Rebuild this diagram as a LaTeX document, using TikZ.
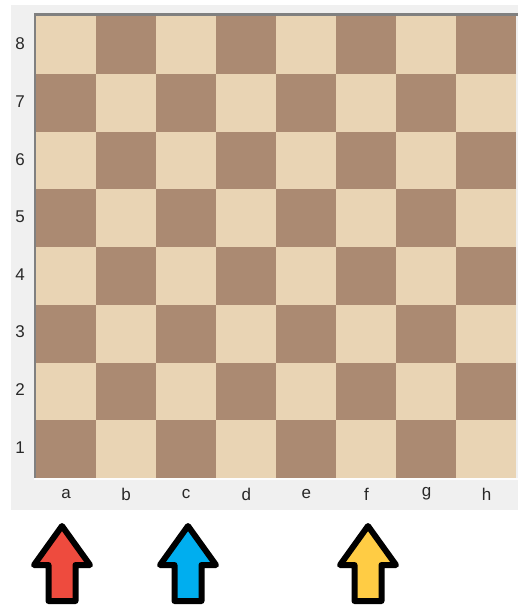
\documentclass[tikz,border=0pt]{standalone}
\usepackage{fontspec}
\setmainfont{Liberation Sans}
\definecolor{lightsq}{RGB}{233,212,180}
\definecolor{darksq}{RGB}{171,138,114}
\definecolor{panel}{RGB}{240,240,240}
\definecolor{edge}{RGB}{128,128,128}
\definecolor{lbl}{RGB}{40,40,40}
\definecolor{redarr}{RGB}{238,75,62}
\definecolor{bluearr}{RGB}{0,174,239}
\definecolor{yelarr}{RGB}{255,204,68}
\begin{document}
\begin{tikzpicture}[x=1pt,y=-1pt,
  coordlbl/.style={text=lbl,font=\fontsize{17}{20}\selectfont,inner sep=0pt,anchor=center},
  arrowshape/.style={draw=black,line width=6pt,line join=round}]
\useasboundingbox (0,0) rectangle (518,608);
\fill[white] (0,0) rectangle (518,608);
\fill[panel] (11,5) rectangle (518,510);
% board squares
\foreach \c in {0,...,7}{
  \foreach \r in {0,...,7}{
    \pgfmathtruncatemacro{\s}{mod(\c+\r,2)}
    \ifnum\s=0 \def\sqcol{lightsq}\else\def\sqcol{darksq}\fi
    \fill[\sqcol] (36+60*\c,16+57.75*\r) rectangle (96+60*\c,16+57.75*\r+57.75);
  }
}
% board edges
\fill[edge] (34,13) rectangle (518,16);
\fill[edge] (34,13) rectangle (36,478);
\fill[white!90!panel] (34,478) rectangle (518,480);
% rank labels
\foreach \n [count=\i from 0] in {8,7,6,5,4,3,2,1}{
  \node[coordlbl] (rank\n) at (20,44+57.6*\i) {\n};
}
% file labels
\foreach \f [count=\i from 0] in {a,b,c,d,e,f,g,h}{
  \node[coordlbl] (file\f) at (66+60.1*\i,494) {\f};
}
% arrows
\foreach \cx/\col in {62/redarr,188/bluearr,368/yelarr}{
  \draw[arrowshape,fill=\col] (\cx,526) -- (\cx+28,565) -- (\cx+13.5,565) -- (\cx+13.5,601)
    -- (\cx-13.5,601) -- (\cx-13.5,565) -- (\cx-28,565) -- cycle;
}
\end{tikzpicture}
\end{document}
